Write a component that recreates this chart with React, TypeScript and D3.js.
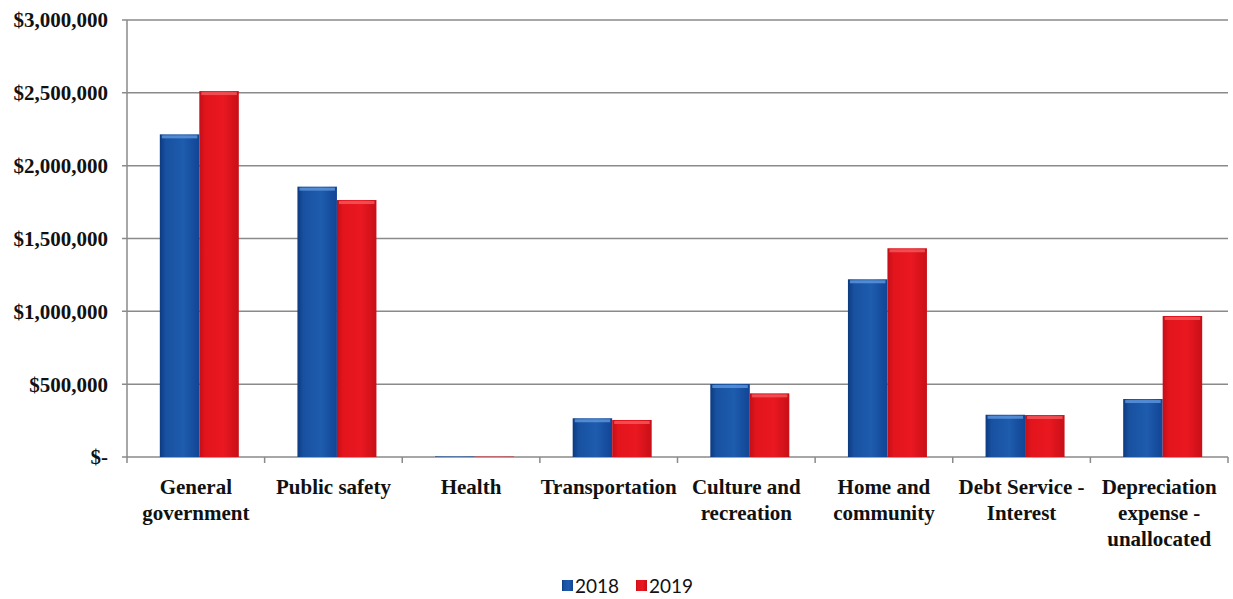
import React from "react";
import * as d3 from "d3";

const categories = [
  ["General", "government"],
  ["Public safety"],
  ["Health"],
  ["Transportation"],
  ["Culture and", "recreation"],
  ["Home and", "community"],
  ["Debt Service -", "Interest"],
  ["Depreciation", "expense -", "unallocated"],
];
const series = ["2018", "2019"];
const values2018 = [2215000, 1856000, 4000, 266000, 501000, 1220000, 290000, 398000];
const values2019 = [2512000, 1764000, 3000, 254000, 437000, 1433000, 288000, 968000];
const yTicks = [0, 500000, 1000000, 1500000, 2000000, 2500000, 3000000];

const W = 1233;
const H = 599;
const left = 127;
const right = 1228;
const top = 20;
const bottom = 457;

const fmt = (v: number) => (v === 0 ? "$-" : "$" + d3.format(",")(v));

export default function App() {
  const x = d3.scaleBand<number>().domain(d3.range(categories.length)).range([left, right]).paddingInner(0).paddingOuter(0);
  const y = d3.scaleLinear().domain([0, 3000000]).range([bottom, top]);
  const bw = x.bandwidth();
  const barW = 39.5;
  const shift = 3.5;
  const serif = "'Liberation Serif', 'DejaVu Serif', serif";
  const data = [values2018, values2019];
  const fills = ["url(#gBlue)", "url(#gRed)"];
  return (
    <svg width={W} height={H} style={{ position: "absolute", left: 0, top: 0, background: "#fff" }}>
      <defs>
        <linearGradient id="gBlue" x1="0" x2="1" y1="0" y2="0">
          <stop offset="0" stopColor="#0c3a80" />
          <stop offset="0.15" stopColor="#1851a0" />
          <stop offset="0.6" stopColor="#1e5cae" />
          <stop offset="1" stopColor="#124494" />
        </linearGradient>
        <linearGradient id="gRed" x1="0" x2="1" y1="0" y2="0">
          <stop offset="0" stopColor="#c20f18" />
          <stop offset="0.15" stopColor="#e2141c" />
          <stop offset="0.6" stopColor="#ea1820" />
          <stop offset="1" stopColor="#c80f17" />
        </linearGradient>
      </defs>
      {yTicks.map((t) => (
        <g key={t}>
          <line x1={left - 5} x2={right} y1={y(t)} y2={y(t)} stroke="#8a8a8a" strokeWidth={1.5} />
          <text x={108} y={y(t)} dy="0.35em" textAnchor="end" fontFamily={serif} fontWeight="bold" fontSize={21} fill="#111">
            {fmt(t)}
          </text>
        </g>
      ))}
      <line x1={left} x2={left} y1={top} y2={bottom} stroke="#8a8a8a" strokeWidth={1.5} />
      {d3.range(categories.length + 1).map((i) => (
        <line key={i} x1={left + i * bw} x2={left + i * bw} y1={bottom} y2={bottom + 6} stroke="#8a8a8a" strokeWidth={1.5} />
      ))}
      {categories.map((c, i) => {
        const cx = (x(i) as number) + bw / 2 + shift;
        return (
          <g key={i}>
            {data.map((vals, s) => {
              const x0 = cx - barW + s * barW;
              const yt = y(vals[i]);
              const h = bottom - yt;
              return (
                <g key={s}>
                  <rect x={x0} y={yt} width={barW} height={h} fill={fills[s]} />
                  {h > 4 && (
                    <rect x={x0 + 2} y={yt + 1} width={barW - 4} height={3} fill={s === 0 ? "#5f97de" : "#f25a5e"} opacity={0.8} />
                  )}
                </g>
              );
            })}
          </g>
        );
      })}
      {categories.map((c, i) => {
        const cx = (x(i) as number) + bw / 2;
        return (
          <text key={i} x={cx} y={494} textAnchor="middle" fontFamily={serif} fontWeight="bold" fontSize={21} fill="#111">
            {c.map((line, k) => (
              <tspan key={k} x={cx} dy={k === 0 ? 0 : 26}>
                {line}
              </tspan>
            ))}
          </text>
        );
      })}
      <g fontFamily="Lato, 'Open Sans', sans-serif" fontSize={19} fill="#111">
        <rect x={562} y={580} width={11} height={11} fill="url(#gBlue)" />
        <text x={575} y={586} dy="0.35em">{series[0]}</text>
        <rect x={636} y={580} width={11} height={11} fill="url(#gRed)" />
        <text x={649} y={586} dy="0.35em">{series[1]}</text>
      </g>
    </svg>
  );
}
